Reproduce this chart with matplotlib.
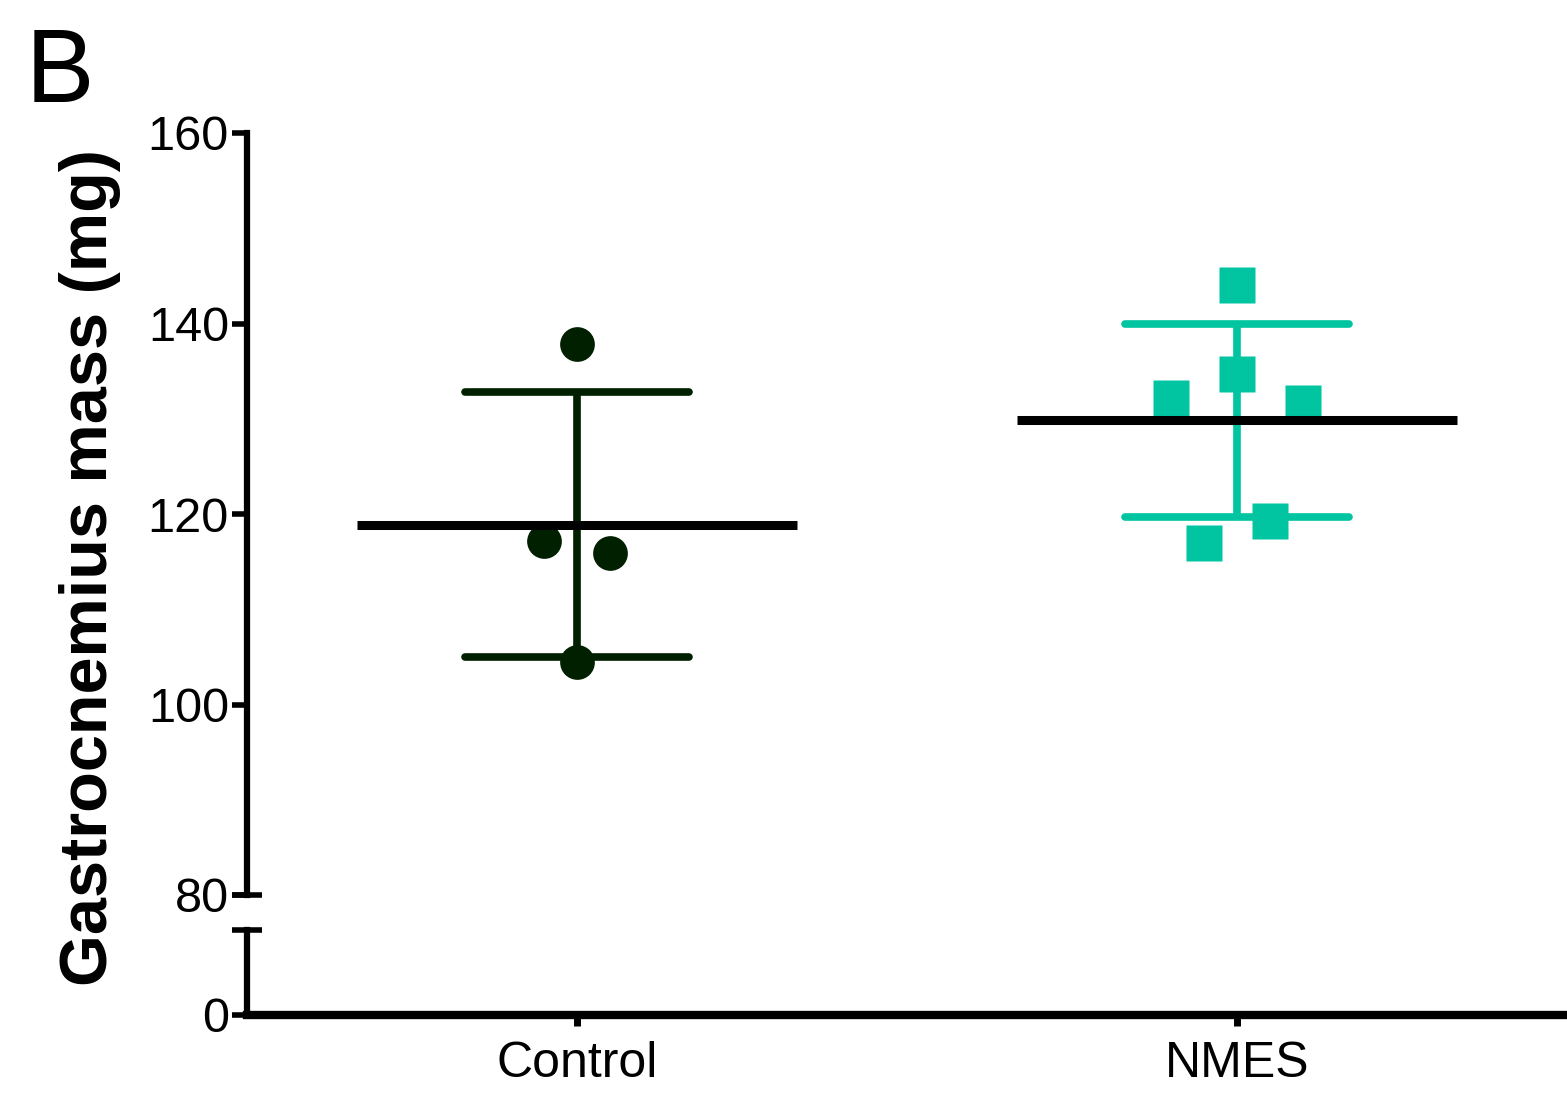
import numpy as np
import matplotlib
matplotlib.use("Agg")
import matplotlib.pyplot as plt

plt.rcParams['font.family'] = ['Liberation Sans', 'DejaVu Sans']

# data
groups = ['Control', 'NMES']
control_vals = [137.9, 117.2, 115.9, 104.5]
control_jit = [0.0, -0.05, 0.05, 0.0]
nmes_vals = [144.0, 134.7, 132.2, 131.7, 119.3, 117.0]
nmes_jit = [0.0, 0.0, -0.1, 0.1, 0.05, -0.05]
yticks_top = [80, 100, 120, 140, 160]

ctrl_col = '#002000'
nmes_col = '#00C5A0'

W, H = 1567, 1097
fig = plt.figure(figsize=(W / 100, H / 100), dpi=100)

left = 247 / W
ax = fig.add_axes([left, (H - 895) / H, 1 - left, (895 - 133) / H])
axb = fig.add_axes([left, (H - 1015) / H, 1 - left, (1015 - 930) / H])

series = [
    (0, control_vals, control_jit, 'o', 25, ctrl_col),
    (1, nmes_vals, nmes_jit, 's', 26, nmes_col),
]

for xpos, vals, jit, mk, ms, col in series:
    vals = np.array(vals)
    m = vals.mean()
    sd = vals.std(ddof=1)
    # error bar (mean +/- SD)
    ax.plot([xpos, xpos], [m - sd, m + sd], color=col, lw=5.5,
            solid_capstyle='butt', zorder=2)
    ax.hlines([m - sd, m + sd], xpos - 0.17, xpos + 0.17, color=col, lw=5.5,
              capstyle='round', zorder=2)
    ax.plot(xpos + np.array(jit), vals, ls='none', marker=mk, ms=ms,
            color=col, mec='none', zorder=3)
    ax.hlines(m, xpos - 0.333, xpos + 0.333, color='black', lw=6.5, zorder=4)

for a in (ax, axb):
    a.set_xlim(-0.5, 1.5)
    a.spines['top'].set_visible(False)
    a.spines['right'].set_visible(False)
    a.spines['left'].set_linewidth(4.5)
    a.tick_params(axis='y', direction='out', length=11, width=4, labelsize=35,
                  pad=2)

ax.set_ylim(80, 160)
ax.set_yticks(yticks_top)
ax.spines['bottom'].set_visible(False)
ax.set_xticks([])

axb.set_ylim(0, 10)
axb.set_yticks([0])
axb.spines['bottom'].set_linewidth(6)
axb.spines['bottom'].set_capstyle('projecting')
axb.set_xticks([0, 1])
axb.set_xticklabels(groups)
axb.tick_params(axis='x', direction='out', length=8, width=5, labelsize=36,
                pad=11)

# break caps
d = 15 / 1320
ax.plot([-d, d], [0, 0], transform=ax.transAxes, color='black', lw=4,
        clip_on=False, solid_capstyle='butt')
axb.plot([-d, d], [1, 1], transform=axb.transAxes, color='black', lw=4,
         clip_on=False, solid_capstyle='butt')

fig.text(90 / W, 1 - 568 / H, 'Gastrocnemius mass (mg)', rotation=90,
         ha='center', va='center', fontsize=48, fontweight='bold')
fig.text(26 / W, 1 - 102 / H, 'B', ha='left', va='baseline', fontsize=74)

fig.savefig('out.png', dpi=100)
